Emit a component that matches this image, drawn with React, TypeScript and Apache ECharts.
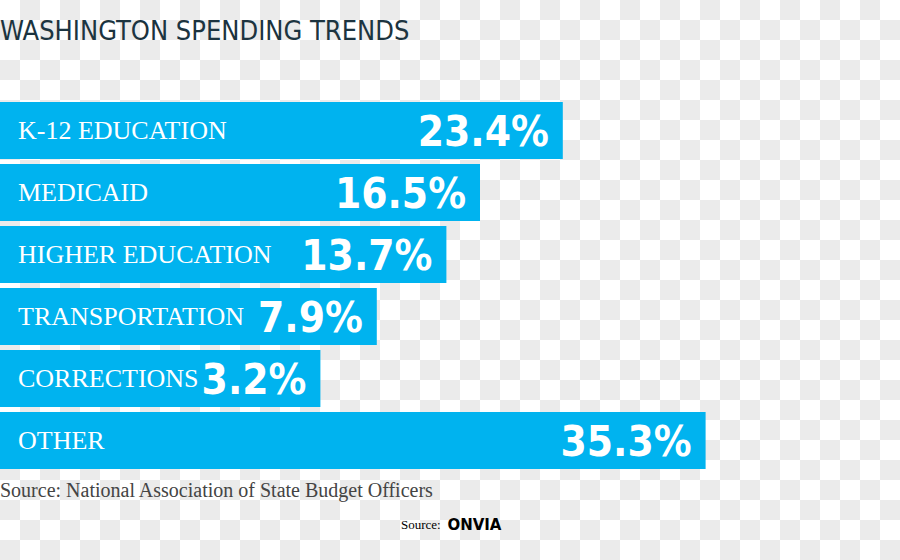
import React, { useEffect, useRef } from "react";
import * as echarts from "echarts";

const TITLE = "WASHINGTON SPENDING TRENDS";
const categories = [
  "K-12 EDUCATION",
  "MEDICAID",
  "HIGHER EDUCATION",
  "TRANSPORTATION",
  "CORRECTIONS",
  "OTHER",
];
const shares = [23.4, 16.5, 13.7, 7.9, 3.2, 35.3];
const SOURCE_NOTE = "Source: National Association of State Budget Officers";
const CREDIT_LABEL = "Source:";
const CREDIT_BRAND = "ONVIA";

const AXIS_MIN = -23.5;
const AXIS_MAX = 51.5;

const BAR_COLOR = "#00B3EF";
const NARROW = "'Liberation Sans Narrow', 'DejaVu Sans Condensed', 'Arial Narrow', sans-serif";
const SERIF = "'Liberation Serif', 'DejaVu Serif', serif";

function makeChecker(): HTMLCanvasElement {
  const c = document.createElement("canvas");
  c.width = 40;
  c.height = 40;
  const ctx = c.getContext("2d");
  if (ctx) {
    ctx.fillStyle = "#ffffff";
    ctx.fillRect(0, 0, 40, 40);
    ctx.fillStyle = "#ebebeb";
    ctx.fillRect(20, 0, 20, 20);
    ctx.fillRect(0, 20, 20, 20);
  }
  return c;
}

export default function App() {
  const ref = useRef<HTMLDivElement>(null);

  useEffect(() => {
    if (!ref.current) return;
    const chart = echarts.init(ref.current, null, { renderer: "svg" });
    const option: any = {
      animation: false,
      backgroundColor: { image: makeChecker(), repeat: "repeat" },
      grid: { left: 0, right: 0, top: 99.5, height: 372, containLabel: false },
      xAxis: {
        type: "value",
        min: AXIS_MIN,
        max: AXIS_MAX,
        show: false,
      },
      yAxis: {
        type: "category",
        data: categories,
        inverse: true,
        z: 10,
        axisLine: { show: false, onZero: false },
        axisTick: { show: false },
        splitLine: { show: false },
        axisLabel: {
          inside: true,
          margin: 18,
          color: "#ffffff",
          fontFamily: SERIF,
          fontSize: 26,
          verticalAlign: "middle",
        },
      },
      series: [
        {
          type: "custom",
          name: "Share",
          z: 5,
          data: shares.map((v, i) => [i, v]),
          encode: { y: 0, x: 1 },
          renderItem: (params: any, api: any) => {
            const cat = api.value(0);
            const val = api.value(1);
            const start = api.coord([AXIS_MIN, cat]);
            const end = api.coord([val, cat]);
            const h = api.size([0, 1])[1] * 0.92;
            return {
              type: "group",
              children: [
                {
                  type: "rect",
                  shape: {
                    x: start[0],
                    y: end[1] - h / 2,
                    width: end[0] - start[0],
                    height: h,
                  },
                  style: { fill: BAR_COLOR },
                },
                {
                  type: "text",
                  x: end[0] - 14,
                  y: end[1] + 1,
                  style: {
                    text: val.toFixed(1) + "%",
                    fill: "#ffffff",
                    font: `bold 42px ${NARROW}`,
                    align: "right",
                    verticalAlign: "middle",
                    textAlign: "right",
                    textVerticalAlign: "middle",
                  },
                },
              ],
            };
          },
        },
      ],
      graphic: [
        {
          type: "text",
          left: 0,
          top: 17,
          style: {
            text: TITLE,
            fill: "#1c3440",
            font: `27px ${NARROW}`,
          },
        },
        {
          type: "text",
          left: 0,
          top: 480,
          style: {
            text: SOURCE_NOTE,
            fill: "#444444",
            font: `20px ${SERIF}`,
          },
        },
        {
          type: "text",
          left: 401,
          top: 517,
          style: {
            text: `{a|${CREDIT_LABEL}}  {b|${CREDIT_BRAND}}`,
            rich: {
              a: { fontFamily: SERIF, fontSize: 13, color: "#2c3a40" },
              b: {
                fontFamily: "'DejaVu Sans', sans-serif",
                fontWeight: "bold",
                fontSize: 15,
                color: "#1a2a33",
              },
            },
          },
        },
      ],
    };
    chart.setOption(option);
    return () => chart.dispose();
  }, []);

  return (
    <div
      style={{
        position: "absolute",
        left: 0,
        top: 0,
        width: 900,
        height: 560,
        backgroundColor: "#ffffff",
      }}
    >
      <div ref={ref} style={{ width: 900, height: 560 }} />
    </div>
  );
}
